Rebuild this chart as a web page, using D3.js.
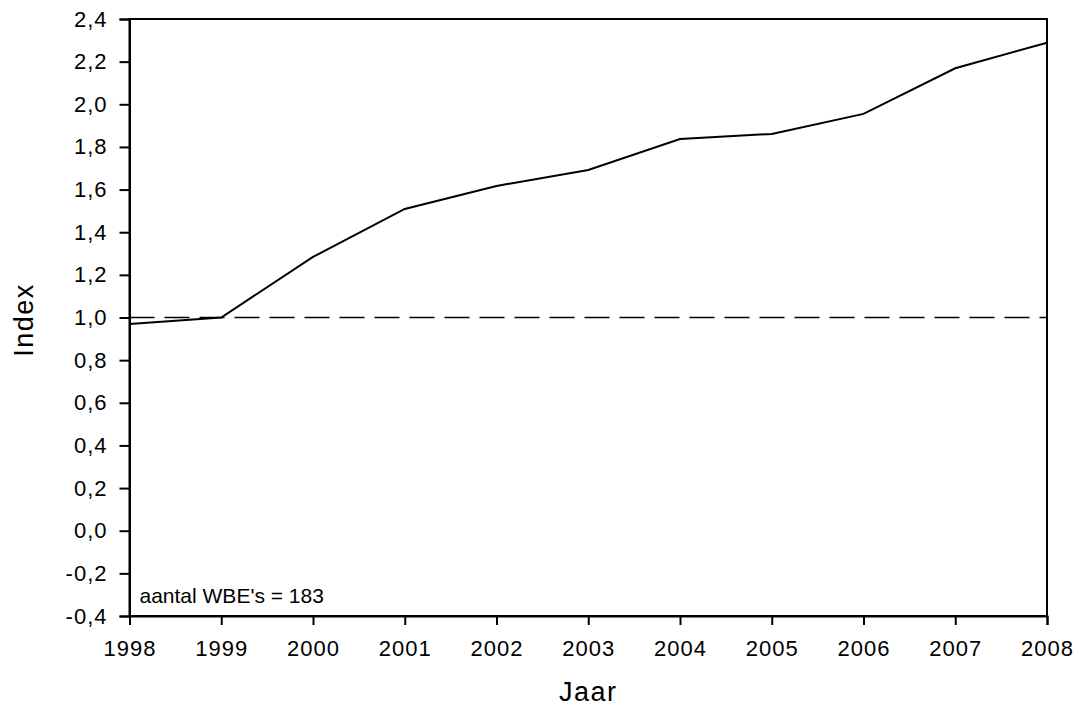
<!DOCTYPE html>
<html>
<head>
<meta charset="utf-8">
<script src="https://cdn.jsdelivr.net/npm/d3@7"></script>
<style>
  body { margin: 0; background: #fff; }
  svg { display: block; }
  text { font-family: "Liberation Sans", Arial, sans-serif; fill: #000; }
</style>
</head>
<body>
<div id="chart"></div>
<script>
const years = [1998, 1999, 2000, 2001, 2002, 2003, 2004, 2005, 2006, 2007, 2008];
const indexValues = [0.97, 1.0, 1.284, 1.509, 1.617, 1.692, 1.837, 1.861, 1.955, 2.169, 2.289];
const yTicks = [-0.4, -0.2, 0.0, 0.2, 0.4, 0.6, 0.8, 1.0, 1.2, 1.4, 1.6, 1.8, 2.0, 2.2, 2.4];
const referenceValue = 1.0;
const annotation = "aantal WBE's = 183";

const width = 1079, height = 708;
const margin = {top: 19, right: 32, bottom: 92, left: 129.5};

const locale = d3.formatLocale({decimal: ',', thousands: '.', grouping: [3], currency: ['€', ''], minus: '-'});
const fmt = locale.format('.1f');

const svg = d3.select('#chart')
  .append('svg')
  .attr('width', width)
  .attr('height', height);

// schalen
const x = d3.scaleLinear()
  .domain([1998, 2008])
  .range([margin.left, width - margin.right]);

const y = d3.scaleLinear()
  .domain([-0.4, 2.4])
  .range([height - margin.bottom, margin.top]);

// kader boven en rechts
svg.append('rect')
  .attr('x', x(1998))
  .attr('y', y(2.4))
  .attr('width', x(2008) - x(1998))
  .attr('height', y(-0.4) - y(2.4))
  .attr('fill', 'none')
  .attr('stroke', '#000')
  .attr('stroke-width', 2);

// y-as
const yAxis = svg.append('g')
  .attr('transform', `translate(${x(1998)},0)`)
  .call(d3.axisLeft(y).tickValues(yTicks).tickFormat(fmt).tickSize(10).tickPadding(12));

// x-as
const xAxis = svg.append('g')
  .attr('transform', `translate(0,${y(-0.4)})`)
  .call(d3.axisBottom(x).tickValues(years).tickFormat(d3.format('d')).tickSize(9).tickPadding(15));

[yAxis, xAxis].forEach(g => {
  g.select('.domain').attr('stroke-width', 2);
  g.selectAll('.tick line').attr('stroke-width', 2);
  g.selectAll('.tick text')
    .attr('font-family', '"Liberation Sans", Arial, sans-serif')
    .attr('font-size', 22)
    .style('letter-spacing', '1px');
});

// referentielijn op 1,0
svg.append('line')
  .attr('x1', x(1998))
  .attr('x2', x(2008))
  .attr('y1', y(referenceValue))
  .attr('y2', y(referenceValue))
  .attr('stroke', '#000')
  .attr('stroke-width', 1.5)
  .attr('stroke-dasharray', '25,10');

// indexlijn
const line = d3.line()
  .x((d, i) => x(years[i]))
  .y(d => y(d));

svg.append('path')
  .datum(indexValues)
  .attr('d', line)
  .attr('fill', 'none')
  .attr('stroke', '#000')
  .attr('stroke-width', 2);

// annotatie
svg.append('text')
  .attr('x', x(1998) + 10)
  .attr('y', y(-0.4) - 13)
  .attr('font-size', 21)
  .text(annotation);

// as titels
svg.append('text')
  .attr('x', (x(1998) + x(2008)) / 2)
  .attr('y', 701)
  .attr('text-anchor', 'middle')
  .attr('font-size', 27)
  .style('letter-spacing', '1.5px')
  .text('Jaar');

svg.append('text')
  .attr('transform', 'translate(33,320) rotate(-90)')
  .attr('text-anchor', 'middle')
  .attr('font-size', 27)
  .style('letter-spacing', '1.5px')
  .text('Index');
</script>
</body>
</html>
